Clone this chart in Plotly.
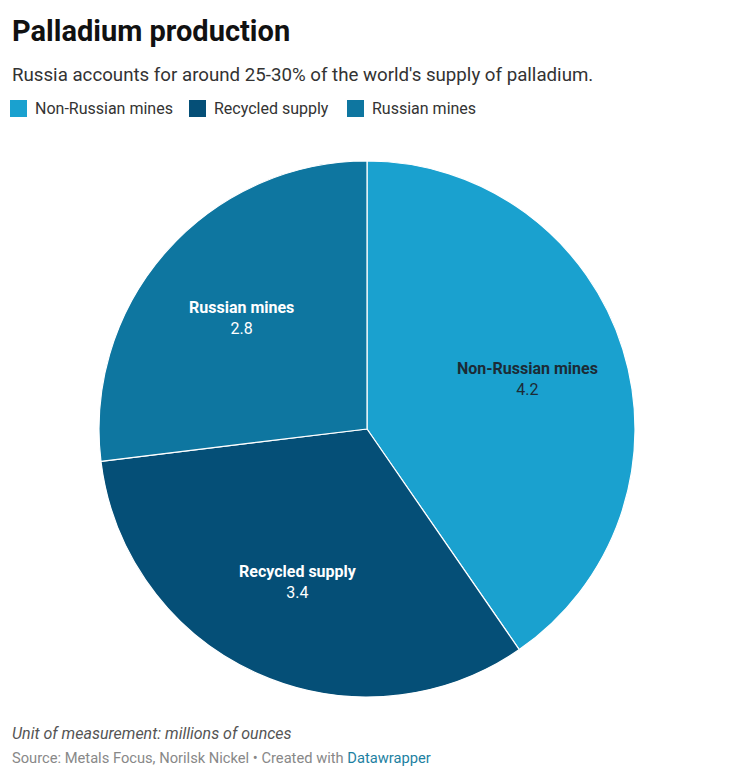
import numpy as np
import plotly.graph_objects as go

categories = ["Non-Russian mines", "Recycled supply", "Russian mines"]
values = [4.2, 3.4, 2.8]
colors = ["#1aa1cf", "#054f77", "#0e76a0"]
text_colors = ["#1c2b36", "#ffffff", "#ffffff"]

W, H = 736, 778
OFF = 8  # page body margin
cx, cy, r = 367 - OFF, 429 - OFF, 268


def px(x):
    return x / W


def py(y):
    return 1 - y / H


fig = go.Figure(go.Pie(
    labels=categories,
    values=values,
    sort=False,
    direction="clockwise",
    rotation=0,
    marker=dict(colors=colors, line=dict(color="#ffffff", width=1.2)),
    textinfo="none",
    hoverinfo="skip",
    showlegend=False,
    domain=dict(x=[px(cx - r), px(cx + r)], y=[py(cy + r), py(cy - r)]),
))

annotations = [
    dict(text="<b>Palladium production</b>", xref="paper", yref="paper",
         x=px(10 - OFF), y=py(31 - OFF), xanchor="left", yanchor="middle", showarrow=False,
         font=dict(family="Roboto", size=29, color="#111111")),
    dict(text="Russia accounts for around 25-30% of the world's supply of palladium.",
         xref="paper", yref="paper", x=px(10 - OFF), y=py(75 - OFF), xanchor="left", yanchor="middle",
         showarrow=False, font=dict(family="Roboto", size=18.7, color="#333333")),
    dict(text="<i>Unit of measurement: millions of ounces</i>", xref="paper", yref="paper",
         x=px(10 - OFF), y=py(733 - OFF), xanchor="left", yanchor="middle", showarrow=False,
         font=dict(family="Roboto", size=16, color="#555555")),
    dict(text="Source: Metals Focus, Norilsk Nickel • Created with <span style='color:#1d81a2'>Datawrapper</span>",
         xref="paper", yref="paper", x=px(10 - OFF), y=py(758 - OFF), xanchor="left", yanchor="middle",
         showarrow=False, font=dict(family="Roboto", size=14.7, color="#888888")),
]

# slice labels placed along each slice's mid-angle
vals = np.array(values, dtype=float)
frac = vals / vals.sum()
ends = np.cumsum(frac) * 2 * np.pi
starts = ends - frac * 2 * np.pi
mids = (starts + ends) / 2
d = 0.627 * r
for lab, v, a, tc in zip(categories, values, mids, text_colors):
    annotations.append(dict(
        text=f"<b>{lab}</b><br>{v}", xref="paper", yref="paper",
        x=px(cx + d * np.sin(a)), y=py(cy - d * np.cos(a)),
        xanchor="center", yanchor="middle", showarrow=False,
        font=dict(family="Roboto", size=16, color=tc)))

# legend (squares + labels) at the top
legend_sq_x = [10, 189, 347]
shapes = []
for lab, c, lx in zip(categories, colors, legend_sq_x):
    shapes.append(dict(type="rect", xref="paper", yref="paper",
                       x0=px(lx - OFF), x1=px(lx + 17 - OFF),
                       y0=py(117 - OFF), y1=py(100 - OFF),
                       fillcolor=c, line=dict(width=0)))
    annotations.append(dict(text=lab, xref="paper", yref="paper",
                            x=px(lx + 23 - OFF), y=py(108.5 - OFF),
                            xanchor="left", yanchor="middle", showarrow=False,
                            font=dict(family="Roboto", size=16, color="#333333")))

fig.update_layout(
    width=W, height=H,
    margin=dict(l=0, r=0, t=0, b=0),
    paper_bgcolor="#ffffff",
    font=dict(family="Roboto", color="#333333"),
    showlegend=False,
    annotations=annotations,
    shapes=shapes,
)

fig.write_html("out.html")
